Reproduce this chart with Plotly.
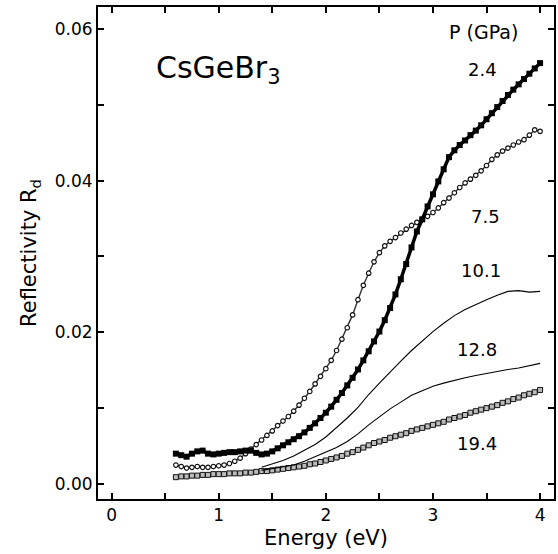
import plotly.graph_objects as go

# ---- data ----
E_pts = [round(0.60 + 0.05 * i, 2) for i in range(69)]  # 0.60 ... 4.00 eV

R_2p4 = [0.0040, 0.0038, 0.0036, 0.0040, 0.0043, 0.0044, 0.0040, 0.0039, 0.0040, 0.0041,
         0.0042, 0.0042, 0.0043, 0.0044, 0.0044, 0.0041, 0.0039, 0.0040, 0.0043, 0.0047,
         0.0051, 0.0055, 0.0059, 0.0063, 0.0068, 0.0074, 0.0080, 0.0087, 0.0094, 0.0102,
         0.0111, 0.0120, 0.0130, 0.0140, 0.0151, 0.0163, 0.0175, 0.0188, 0.0201, 0.0216,
         0.0232, 0.0250, 0.0270, 0.0290, 0.0312, 0.0333, 0.0349, 0.0366, 0.0382, 0.0399,
         0.0415, 0.0431, 0.0440, 0.0447, 0.0453, 0.0460, 0.0466, 0.0473, 0.0481, 0.0489,
         0.0497, 0.0505, 0.0513, 0.0520, 0.0527, 0.0534, 0.0541, 0.0548, 0.0555]

R_7p5 = [0.0025, 0.0023, 0.0021, 0.0022, 0.0023, 0.0022, 0.0022, 0.0023, 0.0024, 0.0025,
         0.0027, 0.0030, 0.0034, 0.0040, 0.0046, 0.0052, 0.0058, 0.0064, 0.0070, 0.0077,
         0.0083, 0.0089, 0.0096, 0.0104, 0.0113, 0.0122, 0.0132, 0.0142, 0.0152, 0.0163,
         0.0176, 0.0191, 0.0206, 0.0223, 0.0243, 0.0262, 0.0278, 0.0293, 0.0305, 0.0314,
         0.0320, 0.0325, 0.0331, 0.0336, 0.0341, 0.0345, 0.0349, 0.0353, 0.0358, 0.0364,
         0.0371, 0.0377, 0.0384, 0.0391, 0.0397, 0.0402, 0.0407, 0.0413, 0.0420, 0.0428,
         0.0434, 0.0439, 0.0443, 0.0447, 0.0451, 0.0454, 0.0460, 0.0467, 0.0465]

R_19p4 = [0.0009, 0.0010, 0.0010, 0.0011, 0.0011, 0.0012, 0.0012, 0.0013, 0.0013, 0.0013,
          0.0014, 0.0014, 0.0014, 0.0015, 0.0015, 0.0016, 0.0017, 0.0017, 0.0018, 0.0019,
          0.0020, 0.0021, 0.0022, 0.0023, 0.0024, 0.0026, 0.0027, 0.0029, 0.0031, 0.0033,
          0.0035, 0.0037, 0.0040, 0.0042, 0.0045, 0.0048, 0.0051, 0.0054, 0.0056, 0.0058,
          0.0061, 0.0063, 0.0065, 0.0067, 0.0070, 0.0072, 0.0074, 0.0076, 0.0078, 0.0080,
          0.0082, 0.0085, 0.0087, 0.0089, 0.0091, 0.0094, 0.0096, 0.0098, 0.0100, 0.0102,
          0.0104, 0.0107, 0.0109, 0.0112, 0.0114, 0.0117, 0.0119, 0.0121, 0.0124]

E_line = [round(1.4 + 0.1 * i, 1) for i in range(27)]  # 1.4 ... 4.0 eV

R_10p1 = [0.0022, 0.0026, 0.0031, 0.0037, 0.0044, 0.0052, 0.0062, 0.0074, 0.0087, 0.0101,
          0.0118, 0.0133, 0.0148, 0.0162, 0.0176, 0.0189, 0.0201, 0.0212, 0.0222, 0.0230,
          0.0237, 0.0243, 0.0249, 0.0254, 0.0255, 0.0253, 0.0254]

R_12p8 = [0.0018, 0.0020, 0.0022, 0.0025, 0.0030, 0.0036, 0.0042, 0.0048, 0.0056, 0.0066,
          0.0078, 0.0089, 0.0099, 0.0108, 0.0117, 0.0123, 0.0129, 0.0133, 0.0137, 0.0140,
          0.0143, 0.0146, 0.0148, 0.0151, 0.0153, 0.0156, 0.0159]

pressure_labels = ["2.4", "7.5", "10.1", "12.8", "19.4"]
label_E = [3.46, 3.49, 3.45, 3.41, 3.41]
label_R = [0.0547, 0.0353, 0.0282, 0.0178, 0.0054]

x_tickvals = [0, 0.5, 1, 1.5, 2, 2.5, 3, 3.5, 4]
x_ticktext = ["0", "", "1", "", "2", "", "3", "", "4"]
y_tickvals = [0.0, 0.01, 0.02, 0.03, 0.04, 0.05, 0.06]
y_ticktext = ["0.00", "", "0.02", "", "0.04", "", "0.06"]

FONT = "DejaVu Sans"

fig = go.Figure()

# 19.4 GPa : small open squares
fig.add_trace(go.Scatter(
    x=E_pts, y=R_19p4, mode="lines+markers",
    line=dict(color="#222222", width=1.5),
    marker=dict(symbol="square", size=5, color="#bbbbbb",
                line=dict(color="#111111", width=1)),
    showlegend=False))

# 12.8 GPa : thin line
fig.add_trace(go.Scatter(
    x=E_line, y=R_12p8, mode="lines",
    line=dict(color="black", width=1.1), showlegend=False))

# 10.1 GPa : thin line
fig.add_trace(go.Scatter(
    x=E_line, y=R_10p1, mode="lines",
    line=dict(color="black", width=1.1), showlegend=False))

# 7.5 GPa : open circles
fig.add_trace(go.Scatter(
    x=E_pts, y=R_7p5, mode="lines+markers",
    line=dict(color="#333333", width=1.4),
    marker=dict(symbol="circle", size=4.5, color="white",
                line=dict(color="#111111", width=1.2)),
    showlegend=False))

# 2.4 GPa : filled squares
fig.add_trace(go.Scatter(
    x=E_pts, y=R_2p4, mode="lines+markers",
    line=dict(color="black", width=3.5),
    marker=dict(symbol="square", size=6, color="black"),
    showlegend=False))

annotations = []
for txt, ex, ry in zip(pressure_labels, label_E, label_R):
    annotations.append(dict(x=ex, y=ry, xref="x", yref="y", text=txt,
                            showarrow=False, font=dict(family=FONT, size=18, color="black"),
                            xanchor="center", yanchor="middle"))
annotations.append(dict(x=3.47, y=0.0596, xref="x", yref="y", text="P (GPa)",
                        showarrow=False, font=dict(family=FONT, size=19, color="black"),
                        xanchor="center", yanchor="middle"))
annotations.append(dict(x=1.0, y=0.0547, xref="x", yref="y", text="CsGeBr<sub>3</sub>",
                        showarrow=False, font=dict(family=FONT, size=30, color="black"),
                        xanchor="center", yanchor="middle"))

axis_common = dict(showgrid=False, zeroline=False, showline=True, linecolor="black",
                   linewidth=2, ticks="inside", ticklen=6, tickwidth=1.5,
                   tickcolor="black", mirror="allticks",
                   tickfont=dict(family=FONT, size=17, color="black"))

fig.update_layout(
    width=558, height=554,
    margin=dict(l=98, r=2, t=7, b=55),
    plot_bgcolor="white", paper_bgcolor="white",
    xaxis=dict(range=[-0.127, 4.13], tickmode="array", tickvals=x_tickvals,
               ticktext=x_ticktext,
               title=dict(text="Energy (eV)", font=dict(family=FONT, size=21, color="black"),
                          standoff=6),
               **axis_common),
    yaxis=dict(range=[-0.00198, 0.0629], tickmode="array", tickvals=y_tickvals,
               ticktext=y_ticktext,
               title=dict(text="Reflectivity R<sub>d</sub>",
                          font=dict(family=FONT, size=21, color="black"), standoff=12),
               **axis_common),
    annotations=annotations,
)

fig.write_html("out.html", config={"displayModeBar": False},
               post_script="document.body.style.margin='0';document.body.style.overflow='hidden';")
